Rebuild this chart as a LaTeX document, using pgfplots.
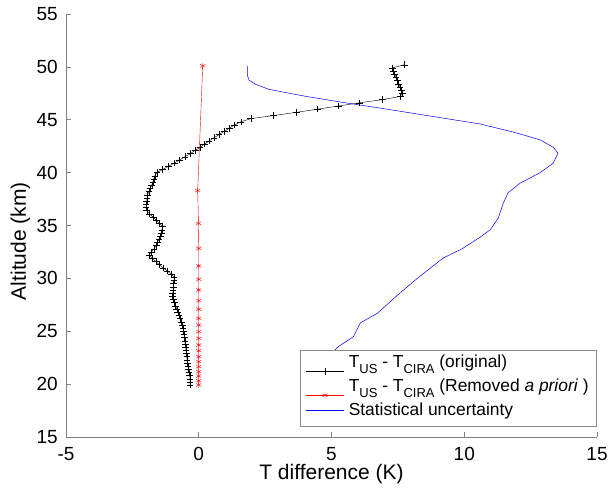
\documentclass[border=0pt]{standalone}
\usepackage{fontspec}
\setmainfont{Liberation Sans}
\usepackage{pgfplots}
\pgfplotsset{compat=1.18}
\usepackage{pgfplotstable}
\newcommand{\sub}[1]{\raisebox{-5.5pt}{\fontsize{13}{13}\selectfont #1}}
\pgfplotsset{
  lowleg/.style={legend image code/.code={\draw[##1, mark repeat=2, mark phase=2] plot coordinates {(0pt,-7.5pt) (19pt,-7.5pt) (38pt,-7.5pt)}; \path (41pt,0pt);}},
  lineleg/.style={legend image code/.code={\draw[blue, line width=0.5pt] (0pt,1.5pt) -- (38pt,1.5pt); \path (41pt,0pt);}},
}

\pgfplotstableread{
x y
-0.33 19.9
-0.33 20.2
-0.33 20.5
-0.34 20.8
-0.36 21.1
-0.39 21.4
-0.41 21.7
-0.43 22.0
-0.44 22.3
-0.45 22.6
-0.46 22.9
-0.48 23.2
-0.49 23.5
-0.51 23.8
-0.52 24.1
-0.54 24.4
-0.56 24.7
-0.58 25.0
-0.59 25.3
-0.61 25.6
-0.66 25.9
-0.70 26.2
-0.74 26.5
-0.79 26.8
-0.83 27.1
-0.87 27.4
-0.91 27.7
-0.95 28.0
-0.99 28.3
-0.98 28.6
-0.97 28.9
-0.96 29.2
-0.95 29.5
-0.93 29.8
-0.93 30.1
-1.04 30.4
-1.19 30.7
-1.34 31.0
-1.49 31.3
-1.62 31.6
-1.75 31.9
-1.88 32.2
-1.78 32.5
-1.69 32.8
-1.60 33.1
-1.55 33.4
-1.50 33.7
-1.45 34.0
-1.41 34.3
-1.39 34.6
-1.36 34.9
-1.48 35.2
-1.60 35.5
-1.73 35.8
-1.85 36.1
-1.96 36.4
-1.99 36.7
-1.98 37.0
-1.96 37.3
-1.95 37.6
-1.93 37.9
-1.88 38.2
-1.83 38.5
-1.77 38.8
-1.73 39.1
-1.69 39.4
-1.65 39.7
-1.58 40.0
-1.36 40.3
-1.14 40.6
-0.92 40.9
-0.72 41.2
-0.52 41.5
-0.32 41.8
-0.13 42.1
0.05 42.4
0.22 42.7
0.39 43.0
0.58 43.3
0.77 43.6
0.96 43.9
1.15 44.2
1.34 44.5
1.58 44.8
1.96 45.1
2.82 45.4
3.68 45.7
4.47 46.0
5.26 46.3
6.05 46.6
6.91 46.9
7.59 47.2
7.68 47.5
7.63 47.8
7.58 48.1
7.53 48.4
7.48 48.7
7.43 49.0
7.38 49.3
7.34 49.6
7.29 49.9
7.74 50.2
}\orig

\pgfplotstableread{
x y
0.00 19.92
0.00 20.32
0.00 20.77
0.00 21.18
0.00 21.65
0.00 22.12
0.00 22.59
0.00 23.16
0.00 23.70
0.00 24.33
0.00 24.96
0.00 25.59
0.00 26.22
0.00 27.08
0.00 27.89
0.00 28.90
0.00 29.91
0.00 31.17
0.00 32.84
-0.01 35.20
-0.04 38.30
0.15 50.10
}\removed

\pgfplotstableread{
x y
1.83 50.08
1.83 49.23
1.89 48.76
2.14 48.35
2.64 47.88
3.90 47.27
5.40 46.65
6.84 46.10
8.72 45.35
10.60 44.60
11.84 43.84
12.86 43.10
13.35 42.40
13.53 41.85
13.35 40.90
12.86 40.00
12.10 39.00
11.65 38.10
11.47 37.10
11.28 35.70
10.98 34.60
10.60 33.90
9.92 32.80
9.21 31.93
8.23 30.00
7.48 28.40
6.73 26.70
6.09 25.80
5.83 24.50
5.23 23.50
4.90 22.60
}\unc

\begin{document}
\begin{tikzpicture}
\useasboundingbox (0,0) rectangle (608pt,488pt);
\begin{axis}[
  at={(66pt,51pt)}, anchor=south west,
  width=531pt, height=423pt, scale only axis,
  xmin=-5, xmax=15, ymin=15, ymax=55,
  axis x line*=bottom, axis y line*=left,
  axis line style={draw=black!50, -},
  tick style={draw=black!50, line width=0.6pt},
  tick align=inside, major tick length=5pt,
  xtick={-5,0,5,10,15}, ytick={15,20,25,30,35,40,45,50,55},
  /pgf/number format/assume math mode=true,
  ticklabel style={font=\fontsize{19}{22}\selectfont, inner sep=0pt},
  xticklabel style={anchor=north, yshift=-10pt},
  yticklabel style={anchor=east, xshift=-8pt},
  xlabel={T difference (K)},
  ylabel={Altitude (km)},
  every axis x label/.style={at={(axis description cs:0.5,-0.0993)}, anchor=base, font=\fontsize{21}{24}\selectfont},
  every axis y label/.style={at={(axis description cs:-0.0857,0.463)}, anchor=center, rotate=90, font=\fontsize{21}{24}\selectfont},
  clip=false,
  legend style={at={(rel axis cs:0.998,0.026)}, anchor=south east,
    draw=black!45, fill=white, font=\fontsize{17.4}{20}\selectfont,
    inner xsep=5.5pt, inner ysep=2pt, nodes={inner sep=1.5pt, text height=14.5pt, text depth=6.5pt}},
  legend cell align=left,
]
\addplot[black, line width=0.4pt, mark=+, mark size=3.3pt, mark options={line width=0.4pt}, lowleg] table {\orig};
\addlegendentry{T\sub{US} - T\sub{CIRA} (original)}
\addplot[red, line width=0.4pt, mark=asterisk, mark size=3pt, mark options={line width=0.4pt}, lowleg] table {\removed};
\addlegendentry{T\sub{US} - T\sub{CIRA} (Removed \textit{a priori} )}
\addplot[blue, line width=0.5pt, lineleg] table {\unc};
\addlegendentry{Statistical uncertainty}
\end{axis}
\end{tikzpicture}
\end{document}
